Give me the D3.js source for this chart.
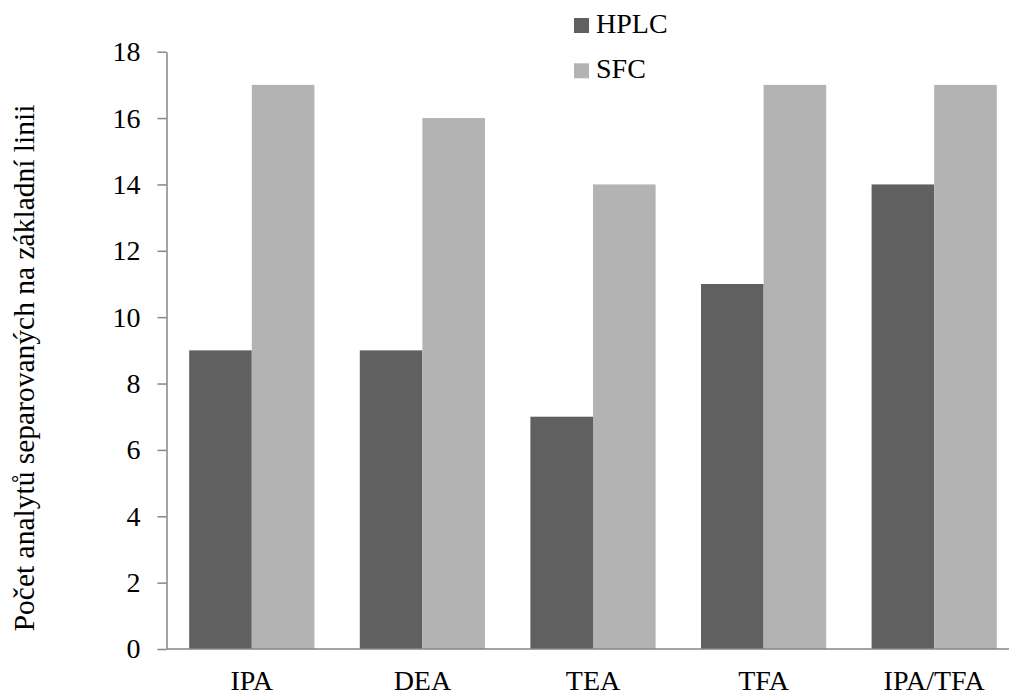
<!DOCTYPE html>
<html>
<head>
<meta charset="utf-8">
<script src="https://cdn.jsdelivr.net/npm/d3@7"></script>
<style>
  body { margin: 0; background: #fff; }
  text { font-family: "Liberation Serif", "Times New Roman", serif; fill: #000; }
</style>
</head>
<body>
<script>
// DATA ––––––––––––––––––––––––––––––––––––––––––––––––––––––––––––––––
var categories = ["IPA", "DEA", "TEA", "TFA", "IPA/TFA"];
var seriesNames = ["HPLC", "SFC"];
var hplcValues = [9, 9, 7, 11, 14];
var sfcValues = [17, 16, 14, 17, 17];
var yTicks = [0, 2, 4, 6, 8, 10, 12, 14, 16, 18];
var yTitle = "Počet analytů separovaných na základní linii";

var colors = { HPLC: "#606060", SFC: "#b3b3b3" };

// CHART –––––––––––––––––––––––––––––––––––––––––––––––––––––––––––––––
var drawChart = function() {
  let margin = {top: 51.7, left: 166.5},
      width = 853,
      height = 597.3;

  let svg = d3.select("body").append("svg")
    .attr("width", 1009)
    .attr("height", 695);

  let g = svg.append("g")
    .attr("transform", "translate(" + margin.left + "," + margin.top + ")");

  let x = d3.scaleBand()
    .domain(categories)
    .range([0, width])
    .paddingInner(0.266)
    .paddingOuter(0.133);

  let x1 = d3.scaleBand()
    .domain(seriesNames)
    .range([0, x.bandwidth()]);

  let y = d3.scaleLinear()
    .domain([0, 18])
    .range([height, 0]);

  let rows = categories.map(function(c, i) {
    return { cat: c, values: [
      { key: "HPLC", value: hplcValues[i] },
      { key: "SFC", value: sfcValues[i] }
    ]};
  });

  // bars
  g.selectAll("g.cat")
    .data(rows)
    .enter().append("g")
      .attr("class", "cat")
      .attr("transform", function(d) { return "translate(" + x(d.cat) + ",0)"; })
    .selectAll("rect")
    .data(function(d) { return d.values; })
    .enter().append("rect")
      .attr("x", function(d) { return x1(d.key); })
      .attr("y", function(d) { return y(d.value); })
      .attr("width", x1.bandwidth())
      .attr("height", function(d) { return height - y(d.value); })
      .attr("fill", function(d) { return colors[d.key]; });

  // y axis
  let yAxis = g.append("g")
    .call(d3.axisLeft(y).tickValues(yTicks).tickSize(9).tickSizeOuter(0).tickPadding(17));
  yAxis.select(".domain").attr("stroke", "#868686").attr("stroke-width", 1.5);
  yAxis.selectAll(".tick line").attr("stroke", "#868686").attr("stroke-width", 1.5);
  yAxis.selectAll(".tick text")
    .attr("font-size", 28)
    .attr("font-family", "Liberation Serif, serif")
    .attr("fill", "#000");

  // x axis line (runs off the right edge)
  g.append("line")
    .attr("x1", 0)
    .attr("x2", 1009 - margin.left)
    .attr("y1", height)
    .attr("y2", height)
    .attr("stroke", "#868686")
    .attr("stroke-width", 1.5);

  // x labels
  g.selectAll("text.xlab")
    .data(categories)
    .enter().append("text")
      .attr("class", "xlab")
      .attr("x", function(d) { return x(d) + x.bandwidth() / 2; })
      .attr("y", height + 41.5)
      .attr("text-anchor", "middle")
      .attr("font-size", 28)
      .text(function(d) { return d; });

  // y title
  svg.append("text")
    .attr("transform", "translate(34,368) rotate(-90)")
    .attr("text-anchor", "middle")
    .attr("font-size", 29.5)
    .text(yTitle);

  // legend
  let legend = svg.append("g")
    .selectAll("g")
    .data(seriesNames)
    .enter().append("g")
      .attr("transform", function(d, i) { return "translate(574," + (18 + i * 45.3) + ")"; });

  legend.append("rect")
    .attr("width", 15)
    .attr("height", 15)
    .attr("fill", function(d) { return colors[d]; });

  legend.append("text")
    .attr("x", 22)
    .attr("y", 15)
    .attr("font-size", 28)
    .text(function(d) { return d; });
};

drawChart();
</script>
</body>
</html>
